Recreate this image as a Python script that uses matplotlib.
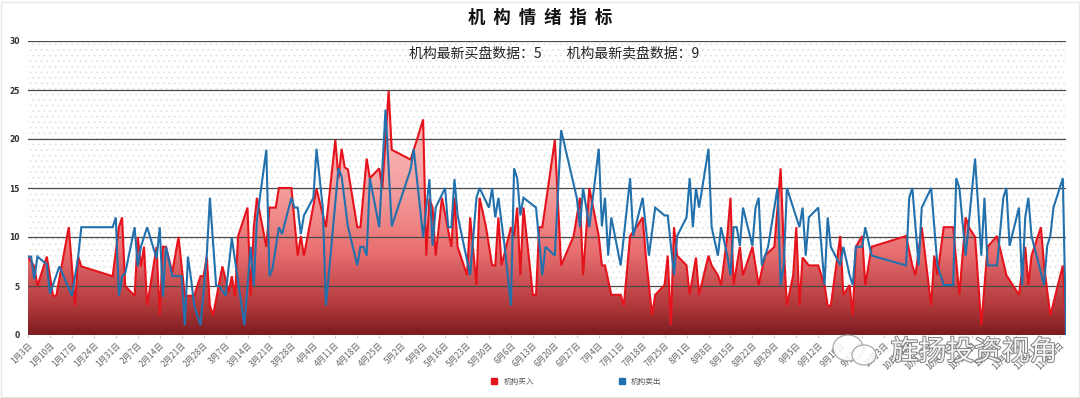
import numpy as np
import pandas as pd
import matplotlib
matplotlib.use("Agg")
import matplotlib.pyplot as plt
from matplotlib.patches import Rectangle, Ellipse
from matplotlib.colors import LinearSegmentedColormap
from matplotlib.lines import Line2D
import matplotlib.patheffects as pe

plt.rcParams['font.family'] = ['Noto Sans CJK SC', 'DejaVu Sans']
plt.rcParams['hatch.linewidth'] = 0.5

# ---------------- data ----------------
start_date = "2022-01-03"
end_date = "2022-12-01"
title = "机构情绪指标"
latest_buy = 5
latest_sell = 9
series_names = ["机构买入", "机构卖出"]

# days since start_date, and values
buy_days = [0, 1, 2, 3, 6, 8, 9, 13, 15, 16, 17, 27, 29, 30, 31, 34, 35, 36, 37, 38,
            40, 41, 42, 43, 44, 46, 48, 50, 53, 55, 56, 57, 58, 59, 62, 64, 65, 66, 67, 70,
            71, 72, 73, 76, 77, 79, 80, 84, 86, 87, 88, 92, 95, 98, 99, 100, 101, 102, 105, 106,
            108, 109, 112, 113, 115, 116, 122, 124, 126, 127, 128, 129, 130, 132, 135, 136, 137, 140, 141, 143,
            144, 146, 148, 149, 150, 151, 154, 155, 156, 157, 158, 161, 162, 163, 164, 165, 168, 170, 174, 176,
            177, 179, 182, 183, 184, 186, 189, 190, 192, 194, 196, 197, 199, 200, 203, 204, 205, 206, 207, 210,
            211, 213, 214, 217, 218, 220, 221, 223, 224, 225, 227, 228, 231, 233, 235, 238, 240, 241, 242, 244,
            245, 246, 247, 249, 252, 254, 255, 256, 259, 260, 262, 263, 264, 266, 267, 269, 280, 282, 283, 285,
            288, 289, 290, 292, 295, 297, 299, 300, 302, 304, 306, 309, 312, 316, 318, 319, 320, 323, 324, 326,
            330, 331]
buy_vals = [8, 7.5, 7, 5, 8, 4, 4, 11, 3, 8, 7, 6, 11, 12, 5, 4, 10, 7, 9, 3,
            7, 9, 2, 9, 9, 6.4, 10, 4, 4, 6, 6, 8, 3, 2, 7, 4.4, 6, 3.9, 10.1, 13,
            4, 11, 14, 9, 13, 13, 15, 15, 8.1, 10.1, 8.1, 14.9, 11, 19.9, 16, 19, 17.1, 16.9, 11, 11,
            18, 16, 17, 15, 24.9, 18.9, 17.9, 19.9, 22, 8.1, 13.9, 13, 8.1, 14, 9, 14, 9, 6.1, 12, 5.1,
            14, 11.1, 7.1, 7.1, 12, 7.1, 11, 10.1, 13, 6.1, 13, 4.1, 4.1, 11, 11, 13.2, 19.9, 7.1, 10.1, 14,
            6.1, 15, 10.1, 7.1, 7.1, 4.1, 4.1, 3, 10.1, 11, 12, 8.1, 2, 4.1, 5.1, 8.1, 1, 11, 8.1, 7.1,
            4.1, 7.9, 4.1, 8.1, 7.1, 6.1, 5.1, 10.1, 14, 5.1, 9, 6.1, 9, 5.1, 8.1, 9, 17, 9, 3, 6.1,
            11, 3, 7.9, 7.1, 7.1, 5.1, 3, 3, 10.1, 4.1, 5.1, 2, 9, 10.1, 5.1, 9, 10.1, 7.1, 6.1, 11,
            3, 8.1, 6.1, 11, 11, 4.1, 12, 11, 10, 1, 9, 10.1, 6.1, 4.1, 9, 5.1, 8.1, 11, 7.1, 2,
            7.1, 0]

sell_days = [0, 1, 2, 3, 6, 7, 10, 14, 16, 17, 27, 28, 29, 30, 31, 34, 35, 36, 38, 41,
             42, 43, 44, 46, 49, 50, 51, 52, 53, 55, 57, 58, 60, 61, 63, 65, 69, 71, 72, 73,
             76, 77, 78, 80, 81, 84, 85, 86, 87, 88, 91, 92, 94, 95, 97, 99, 100, 102, 105, 106,
             107, 108, 109, 112, 114, 116, 122, 123, 126, 128, 129, 130, 133, 134, 135, 136, 137, 141, 143, 144,
             147, 148, 149, 150, 152, 154, 155, 156, 157, 158, 162, 164, 165, 168, 170, 175, 176, 177, 178, 179,
             182, 183, 184, 185, 186, 189, 190, 192, 193, 196, 198, 200, 203, 204, 206, 207, 210, 211, 212, 213,
             214, 217, 218, 220, 221, 223, 224, 225, 226, 227, 228, 231, 232, 233, 234, 236, 239, 240, 241, 242,
             246, 247, 248, 249, 252, 254, 255, 256, 259, 260, 262, 263, 264, 266, 267, 269, 280, 281, 282, 284,
             285, 288, 290, 292, 295, 296, 297, 299, 302, 304, 305, 306, 309, 311, 312, 313, 316, 317, 318, 319,
             320, 324, 325, 326, 327, 330, 331]
sell_vals = [8, 8, 5.7, 8, 7.2, 4.2, 7, 4, 8, 11, 11, 12, 4, 6, 6.3, 11, 7, 9, 11, 7.8,
             11, 3.9, 9, 6, 6, 1, 8, 5.7, 3, 1, 8.1, 14, 5, 5, 4, 9.9, 1, 9, 5, 11.8,
             18.9, 6, 6.8, 11, 10.3, 14, 13, 13, 10.3, 12.2, 14, 19, 13, 3, 10, 17, 16.2, 11.1, 7.1, 9,
             9, 8.1, 16, 11, 23, 11.1, 16.9, 19, 10, 15.9, 9.1, 13, 15, 11, 11, 15.9, 12.2, 6.1, 14, 15,
             13, 15, 12, 14, 9, 3, 17, 16, 12.2, 14, 13, 6.1, 9, 8.1, 20.9, 14, 11, 15, 13, 11,
             19, 11.1, 14, 8.1, 12, 7.1, 10.1, 16, 10.1, 14, 8.1, 13, 12.2, 12.2, 6.1, 10.1, 12, 16, 11, 15,
             13, 19, 11, 8.1, 11, 8.1, 6.1, 11, 11, 9.1, 13, 9.1, 13, 14, 7.1, 9, 15, 5.1, 7.1, 15,
             11, 13, 8.1, 12, 13, 5.1, 12, 9, 7.1, 9, 6.1, 5.1, 9, 9, 11, 8.1, 7.1, 14, 15, 7.1,
             13, 15, 7.1, 5.1, 5.1, 16, 15, 8.1, 18, 8.1, 14, 7.1, 7.1, 14, 15, 9.1, 13, 5.1, 12, 14,
             10.1, 5.1, 9.1, 10.1, 13, 16, 0]

y_ticks = [0, 5, 10, 15, 20, 25, 30]

# ---------------- figure ----------------
fig = plt.figure(figsize=(10.8, 3.98), dpi=100)
fig.patch.set_facecolor('white')
ax = fig.add_axes([28/1080, 1-335/398, (1066-28)/1080, (335-41)/398])

all_dates = pd.date_range(start_date, end_date, freq='D')
n_days = len(all_dates) - 1
ax.set_xlim(0, buy_days[-1])
ax.set_ylim(0, 30)

# dotted background
bg = Rectangle((0, 0), 1, 1, transform=ax.transAxes, facecolor='white',
               edgecolor='#dde1e1', hatch='...', lw=0, zorder=0)
ax.add_patch(bg)

# gradient-filled red area
bx = np.array(buy_days, dtype=float)
by = np.array(buy_vals, dtype=float)
poly = ax.fill_between(bx, 0, by, facecolor='none', edgecolor='none', zorder=1)
cmap = LinearSegmentedColormap.from_list(
    'grad', [(0.0, '#7c1c20'), (0.1, '#b23a3c'), (0.28, '#e86f70'),
             (0.5, '#f5a0a0'), (0.8, '#fac4c4'), (1.0, '#fcd6d6')])
grad = np.linspace(0, 1, 256).reshape(-1, 1)
im = ax.imshow(grad, extent=[0, buy_days[-1], 0, 30], origin='lower',
               aspect='auto', cmap=cmap, zorder=1.1)
path = poly.get_paths()[0]
im.set_clip_path(path, transform=ax.transData)

# grid lines
for t in y_ticks:
    ax.axhline(t, color='#4a4a4a', lw=0.9, zorder=2)

ax.plot(bx, by, color='#e5131c', lw=1.5, zorder=3, solid_joinstyle='miter')
ax.plot(sell_days, sell_vals, color='#2271ad', lw=1.5, zorder=4, solid_joinstyle='miter')

for s in ax.spines.values():
    s.set_visible(False)

ax.set_yticks(y_ticks)
ax.set_yticklabels([str(t) for t in y_ticks], fontsize=5.5, color='#333333',
                   fontweight='bold', family=['DejaVu Sans'])
ax.tick_params(axis='y', length=0, pad=6)

tick_pos = list(range(0, n_days, 7))
tick_lab = [f"{all_dates[i].month}月{all_dates[i].day}日" for i in tick_pos]
ax.set_xticks(tick_pos)
ax.set_xticklabels(tick_lab, rotation=45, ha='right', rotation_mode='anchor',
                   fontsize=6, color='#666666')
ax.tick_params(axis='x', length=2, color='#cccccc', pad=2)

# titles
fig.text(0.5, 1-18/398, "  ".join(list(title)), ha='center', va='center',
         fontsize=12.5, fontweight='bold', color='#111111')
fig.text(554/1080, 1-53/398,
         f"机构最新买盘数据：{latest_buy}        机构最新卖盘数据：{latest_sell}",
         ha='center', va='center', fontsize=10, color='#222222')

# legend
handles = [Line2D([], [], marker='s', ls='none', markersize=5, markerfacecolor='#e5131c',
                  markeredgecolor='#e5131c'),
           Line2D([], [], marker='s', ls='none', markersize=5, markerfacecolor='#2271ad',
                  markeredgecolor='#2271ad')]
fig.legend(handles, series_names, loc='center', bbox_to_anchor=(574/1080, 1-382/398),
           ncol=2, frameon=False, fontsize=5.5, columnspacing=10.5, handletextpad=0.2,
           labelcolor='#555555')

# watermark
fig.patches.append(Ellipse((848/1080, 1-348/398), 30/1080, 26/398, transform=fig.transFigure,
                           facecolor='white', edgecolor='#999999', lw=0.9, alpha=0.85))
fig.patches.append(Ellipse((864/1080, 1-355/398), 24/1080, 20/398, transform=fig.transFigure,
                           facecolor='white', edgecolor='#999999', lw=0.9, alpha=0.85))
fig.text(974/1080, 1-352/398, "旌扬投资视角", ha='center', va='center', fontsize=20,
         color='white', alpha=0.9,
         path_effects=[pe.withStroke(linewidth=1.4, foreground='#777777')])

# outer frame
fig.patches.append(Rectangle((0.001, 0.002), 0.998, 0.994, transform=fig.transFigure,
                             facecolor='none', edgecolor='#e6e6e6', lw=1))

fig.savefig('out.png', dpi=100)
